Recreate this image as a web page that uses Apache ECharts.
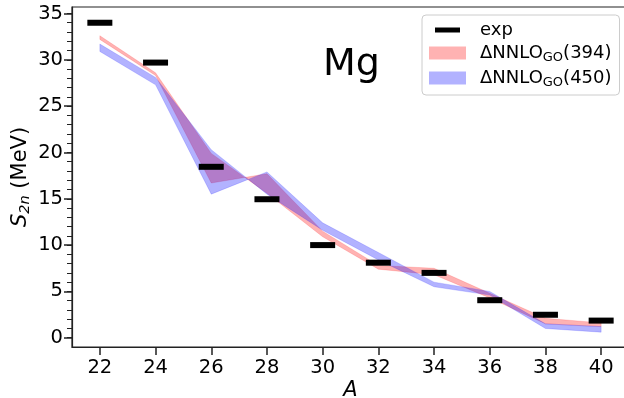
<!DOCTYPE html>
<html>
<head>
<meta charset="utf-8">
<script src="https://cdn.jsdelivr.net/npm/echarts@6/dist/echarts.min.js"></script>
<style>
html, body { margin: 0; padding: 0; background: #fff; }
#cn { width: 624px; height: 398px; }
</style>
</head>
<body>
<div id="cn"></div>
<script>
'use strict';

// mass number A
const arrA = [22, 24, 26, 28, 30, 32, 34, 36, 38, 40];
// exp S2n (MeV)
const arrExp = [34.0, 29.7, 18.45, 14.95, 10.0, 8.1, 7.0, 4.05, 2.48, 1.85];
// ΔNNLO_GO(394) band edges (the two edges swap between 26 and 28)
const arr394A = [32.6, 28.6, 19.9, 15.6, 10.9, 7.4, 6.8, 4.3, 1.5, 1.2];
const arr394B = [32.2, 28.3, 16.7, 17.7, 11.5, 7.8, 7.5, 4.8, 2.1, 1.6];
// ΔNNLO_GO(450) band edges
const arr450A = [31.7, 28.1, 20.3, 15.5, 11.6, 8.4, 5.5, 4.6, 1.0, 0.6];
const arr450B = [30.9, 27.3, 15.5, 17.9, 12.4, 9.2, 6.0, 5.0, 1.5, 1.2];

// ticks
const arrXTick = [22, 24, 26, 28, 30, 32, 34, 36, 38, 40];
const arrYTick = [0, 5, 10, 15, 20, 25, 30, 35];
const arrYMinor = [0, 1, 2, 3, 4, 5, 6, 7, 8, 9, 10, 11, 12, 13, 14, 15, 16, 17,
    18, 19, 20, 21, 22, 23, 24, 25, 26, 27, 28, 29, 30, 31, 32, 33, 34, 35];

const FONT = 'DejaVu Sans';
const AXIS_COLOR = '#222';
const RED = 'rgba(255,0,0,0.3)';
const BLUE = 'rgba(0,0,255,0.3)';

const legendText = {
    'exp': '{g| }{m|exp}',
    'go394': '{g| }{m|ΔNNLO}{s|GO}{m|(394)}',
    'go450': '{g| }{m|ΔNNLO}{s|GO}{m|(450)}'
};

// one polygon per band: edge A forward, edge B back
function bandItem(edgeA, edgeB, color) {
    return function(params, api) {
        if (params.dataIndex !== 0) return;
        const pts = [];
        arrA.forEach((a, i) => pts.push(api.coord([a, edgeA[i]])));
        for (let i = arrA.length - 1; i >= 0; i--) {
            pts.push(api.coord([arrA[i], edgeB[i]]));
        }
        return {
            type: 'polygon',
            shape: { points: pts },
            style: { fill: color, stroke: color, lineWidth: 0.5 }
        };
    };
}

const chart = echarts.init(document.getElementById('cn'));

const option = {
    backgroundColor: '#fff',
    animation: false,
    title: {
        text: 'Mg',
        left: 318,
        top: 41,
        textStyle: { fontSize: 38, fontWeight: 'normal', color: '#000', fontFamily: FONT }
    },
    grid: {
        left: 72,
        top: 7,
        width: 557,
        height: 340,
        outerBoundsMode: 'none',
        containLabel: false,
        show: true,
        borderColor: AXIS_COLOR,
        borderWidth: 1.2,
        backgroundColor: 'transparent'
    },
    legend: {
        orient: 'vertical',
        left: 422,
        top: 15,
        padding: [6, 8, 6, 7],
        itemGap: 5,
        itemWidth: 37,
        itemHeight: 13,
        borderColor: '#ccc',
        borderWidth: 1,
        borderRadius: 4,
        backgroundColor: 'rgba(255,255,255,0.8)',
        data: [
            { name: 'exp', icon: 'path://M0,0M37,13M6,4h25v5h-25z' },
            { name: 'go394', icon: 'rect' },
            { name: 'go450', icon: 'rect' }
        ],
        formatter: name => legendText[name],
        textStyle: {
            color: '#000',
            fontFamily: FONT,
            fontSize: 18,
            rich: {
                g: { width: 9 },
                m: { fontSize: 18, fontFamily: FONT, color: '#000', lineHeight: 22 },
                s: { fontSize: 13, fontFamily: FONT, color: '#000', lineHeight: 16, verticalAlign: 'bottom' }
            }
        }
    },
    xAxis: {
        type: 'value',
        min: 21,
        max: 41,
        name: 'A',
        nameLocation: 'middle',
        nameGap: 33,
        nameMoveOverlap: false,
        nameTextStyle: { fontStyle: 'italic', fontSize: 21, color: '#000', fontFamily: FONT },
        axisLine: { onZero: false, lineStyle: { color: AXIS_COLOR, width: 1.2 } },
        axisTick: { customValues: arrXTick, length: 8, lineStyle: { color: AXIS_COLOR, width: 1.5 } },
        axisLabel: { customValues: arrXTick, fontSize: 19.5, color: '#000', fontFamily: FONT, margin: 11 },
        splitLine: { show: false }
    },
    yAxis: [
        {
            type: 'value',
            min: -1,
            max: 35.7,
            position: 'left',
            name: '{i|S}{s|2n}{n| (MeV)}',
            nameLocation: 'middle',
            nameGap: 39,
            nameMoveOverlap: false,
            nameTextStyle: {
                color: '#000',
                fontFamily: FONT,
                rich: {
                    i: { fontSize: 21, fontStyle: 'italic', fontFamily: FONT, color: '#000', lineHeight: 24 },
                    s: { fontSize: 14.5, fontStyle: 'italic', fontFamily: FONT, color: '#000', lineHeight: 14, verticalAlign: 'bottom' },
                    n: { fontSize: 21, fontFamily: FONT, color: '#000', lineHeight: 24 }
                }
            },
            axisLine: { show: true, onZero: false, lineStyle: { color: AXIS_COLOR, width: 1.2 } },
            axisTick: { show: true, customValues: arrYTick, length: 8, lineStyle: { color: AXIS_COLOR, width: 1.5 } },
            axisLabel: { customValues: arrYTick, fontSize: 19.5, color: '#000', fontFamily: FONT, margin: 9 },
            splitLine: { show: false }
        },
        {
            type: 'value',
            min: -1,
            max: 35.7,
            position: 'left',
            offset: 0,
            axisLine: { show: false, onZero: false },
            axisTick: { show: true, customValues: arrYMinor, length: 5, lineStyle: { color: AXIS_COLOR, width: 1 } },
            axisLabel: { show: false },
            splitLine: { show: false }
        }
    ],
    series: [
        {
            name: 'go394',
            type: 'custom',
            renderItem: bandItem(arr394A, arr394B, RED),
            itemStyle: { color: RED },
            data: arrA.map((a, i) => [a, arr394A[i], arr394B[i]]),
            encode: { x: 0, y: [1, 2] },
            z: 2
        },
        {
            name: 'go450',
            type: 'custom',
            renderItem: bandItem(arr450A, arr450B, BLUE),
            itemStyle: { color: BLUE },
            data: arrA.map((a, i) => [a, arr450A[i], arr450B[i]]),
            encode: { x: 0, y: [1, 2] },
            z: 3
        },
        {
            name: 'exp',
            type: 'scatter',
            symbol: 'rect',
            symbolSize: [25, 6],
            itemStyle: { color: '#000', opacity: 1 },
            data: arrA.map((a, i) => [a, arrExp[i]]),
            z: 5
        }
    ]
};

chart.setOption(option);
</script>
</body>
</html>
